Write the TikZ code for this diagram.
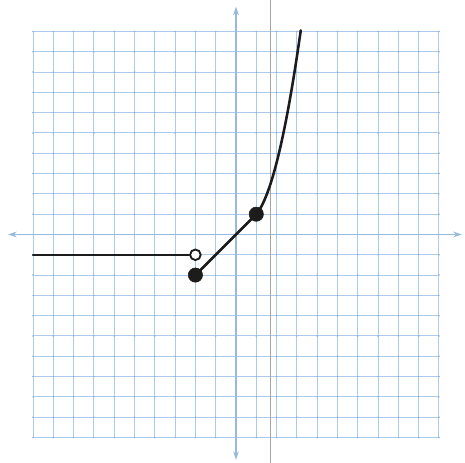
\documentclass[tikz,border=0pt]{standalone}
\usetikzlibrary{arrows.meta}
\pgfdeclarelayer{gridlayer}
\pgfdeclarelayer{curvelayer}
\pgfsetlayers{gridlayer,curvelayer,main}
\definecolor{gridblue}{RGB}{172,203,236}
\definecolor{axisblue}{RGB}{150,186,222}
\definecolor{dotblue}{RGB}{140,178,220}
\definecolor{foldgray}{RGB}{165,165,165}
\definecolor{ink}{RGB}{28,28,28}
\begin{document}
\begin{tikzpicture}[x=0.5cm,y=0.5cm,
  gridline/.style={gridblue,line width=0.7pt},
  axisline/.style={axisblue,line width=0.9pt,{Stealth[length=6pt,width=4pt]}-{Stealth[length=6pt,width=4pt]}},
  graphline/.style={ink,line width=1.8pt,line cap=round},
  closeddot/.style={circle,fill=ink,draw=ink,inner sep=0pt,minimum size=10pt},
  opendot/.style={circle,fill=white,draw=ink,line width=1.3pt,inner sep=0pt,minimum size=7.4pt}]
\useasboundingbox (-11.626,-11.256) rectangle (11.281,11.552);
\begin{pgfonlayer}{gridlayer}
  \fill[white] (-11.626,-11.256) rectangle (11.281,11.552);
  \draw[gridline,step=0.5cm] (-10,-10) grid (10,10);
  \foreach \i in {-10,...,10}
    \foreach \j in {-10,...,10}
      \fill[dotblue] (\i,\j) circle (0.6pt);
  \coordinate (xl) at (-11.23,0);
  \coordinate (xr) at (11.13,0);
  \coordinate (yb) at (0,-11.1);
  \coordinate (yt) at (0,11.22);
  \draw[axisline] (xl) -- (xr);
  \draw[axisline] (yb) -- (yt);
  \coordinate (fb) at (1.71,-11.256);
  \coordinate (ft) at (1.71,11.552);
  \draw[foldgray,line width=0.7pt] (fb) -- (ft);
\end{pgfonlayer}
\node[opendot] (open) at (-2,-1) {};
\node[closeddot] (low) at (-2,-2) {};
\node[closeddot] (mid) at (1,1) {};
\coordinate (start) at (-10,-1);
\begin{pgfonlayer}{curvelayer}
  \draw[graphline,line width=1.5pt] (start) -- (open);
  \draw[graphline] (low.center) -- (mid.center);
  \draw[graphline] plot[domain=0:2.19,samples=50,smooth] ({1+\x},{1+1.2*\x+1.34*\x*\x});
\end{pgfonlayer}
\end{tikzpicture}
\end{document}
